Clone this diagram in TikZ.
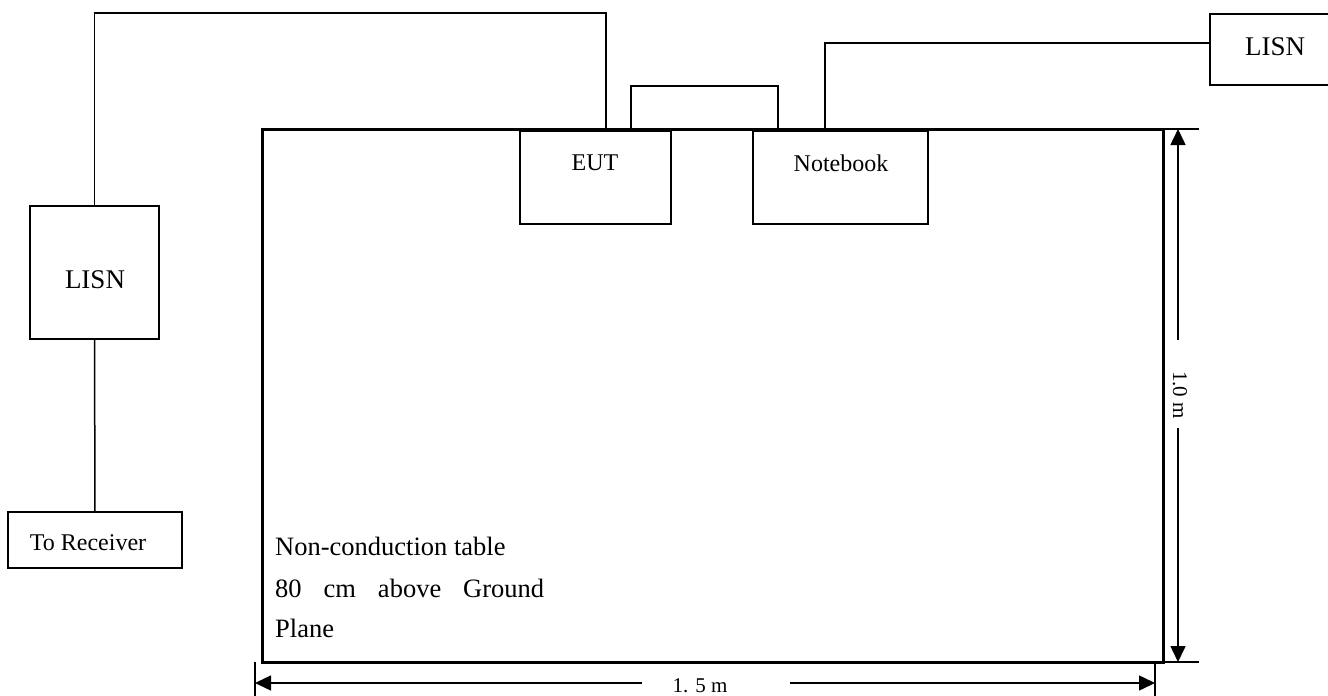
\documentclass[tikz,border=0pt]{standalone}
\usepackage{fontspec}
\setmainfont{Liberation Serif}
\usetikzlibrary{arrows.meta}
\begin{document}
\begin{tikzpicture}[x=1pt,y=-1pt,
  wire/.style={line width=1.5pt},
  box/.style={draw, line width=1.5pt, inner sep=0pt, outer sep=0pt},
  lbl/.style={inner sep=0pt, font=\fontsize{24}{28}\selectfont},
  big/.style={inner sep=0pt, font=\fontsize{27}{32}\selectfont},
  tabletext/.style={inner sep=0pt, anchor=west, font=\fontsize{26.5}{30}\selectfont},
  dimtext/.style={inner sep=0pt, font=\fontsize{21}{25}\selectfont},
  dimline/.style={line width=1.5pt, -{Triangle[length=16pt,width=15pt]}},
  ext/.style={line width=1.5pt},
]
\useasboundingbox (0,0) rectangle (1328,696);
\clip (0,0) rectangle (1328,696);

% table
\node[draw, line width=3pt, inner sep=0pt, outer sep=0pt,
      minimum width=901pt, minimum height=533pt] (table) at (712.5,395.5) {};

% boxes
\node[box, minimum width=151pt, minimum height=93pt] (eut) at (595.5,177.5) {};
\node[lbl] at (595,163) {EUT};
\node[box, minimum width=175pt, minimum height=93pt] (nb) at (840.5,177.5) {};
\node[lbl] at (841,163) {Notebook};
\node[box, minimum width=129pt, minimum height=133pt] (lisnL) at (94.5,272.5) {};
\node[big] at (95,280) {LISN};
\node[box, minimum width=174pt, minimum height=56pt] (recv) at (95,540) {};
\node[lbl] at (88,543) {To Receiver};
\node[box, minimum width=130pt, minimum height=71pt] (lisnR) at (1275,49.5) {};
\node[big] at (1275,47) {LISN};

% wires
\draw[wire] ([xshift=86pt]eut.north west) -- ++(0,-118) -| (lisnL.north);
\draw[wire] ([xshift=111pt]eut.north west) -- ++(0,-45) -| ([xshift=25pt]nb.north west);
\draw[wire] ([xshift=72pt]nb.north west) |- ([yshift=6.5pt]lisnR.west);
\draw[wire] (lisnL.south) -- (recv.north);

% table text
\node[tabletext] at (275,546) {Non-conduction table};
\node[tabletext] at (275,588) {\hbox to 269pt{80\hfill cm\hfill above\hfill Ground}};
\node[tabletext] at (275,628) {Plane};

% vertical dimension
\coordinate (vt) at (1178,129);
\coordinate (vb) at (1178,662);
\draw[ext] (table.north east) -- (1199,129);
\draw[ext] (table.south east) -- (1199,662);
\draw[dimline] (1178,340) -- (vt);
\draw[dimline] (1178,428) -- (vb);
\node[dimtext, rotate=-90] at (1180,395) {1.0 m};

% horizontal dimension
\coordinate (hl) at (255,683);
\coordinate (hr) at (1155,683);
\draw[ext] (255,662) -- (255,696);
\draw[ext] (1155,662) -- (1155,696);
\draw[dimline] (642,683) -- (hl);
\draw[dimline] (790,683) -- (hr);
\node[dimtext] at (700,686) {1. 5 m};
\end{tikzpicture}
\end{document}
